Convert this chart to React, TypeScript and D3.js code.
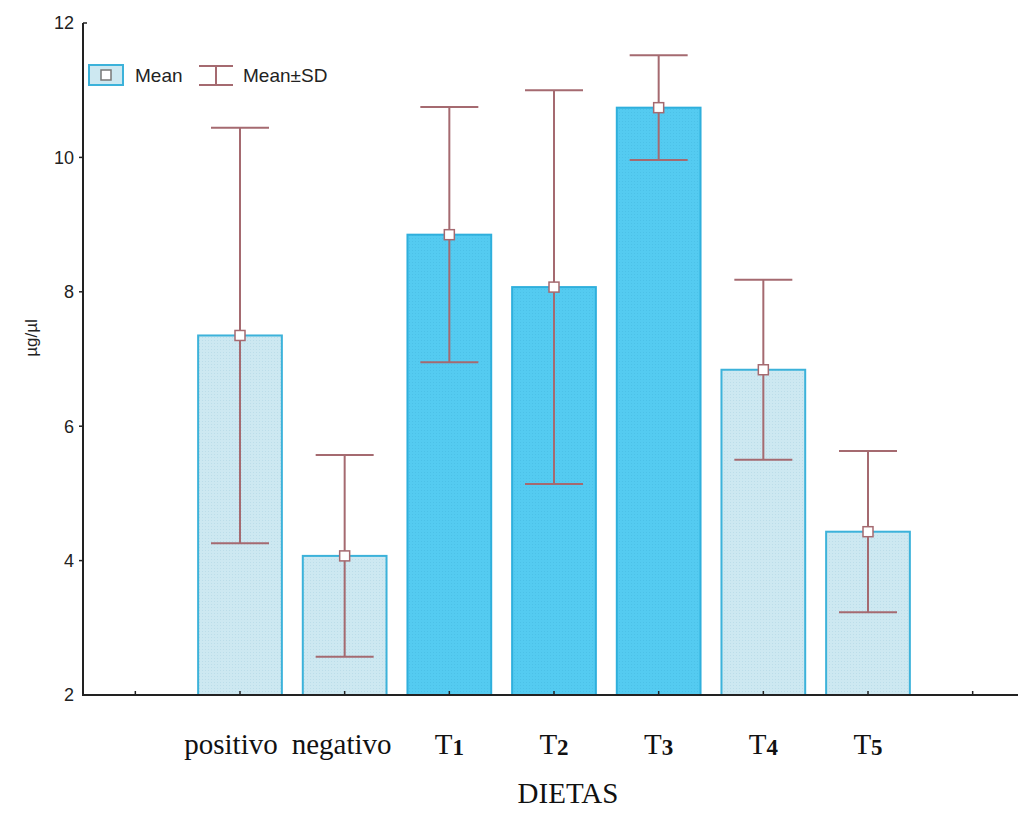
import React from "react";
import * as d3 from "d3";

// Diet groups: label text and optional subscript
const categories = ["positivo", "negativo", "T1", "T2", "T3", "T4", "T5"];
const labelBase = ["positivo", "negativo", "T", "T", "T", "T", "T"];
const labelSub = ["", "", "1", "2", "3", "4", "5"];
// Mean concentration (µg/µl) and standard deviation per group
const means = [7.35, 4.07, 8.85, 8.07, 10.74, 6.84, 4.43];
const sds = [3.09, 1.5, 1.9, 2.93, 0.78, 1.34, 1.2];
// Highlighted (dark) bars
const highlighted = [false, false, true, true, true, false, false];
const yTicks = [2, 4, 6, 8, 10, 12];

const W = 1018;
const H = 820;

export default function App() {
  const y = d3.scaleLinear().domain([2, 12]).range([695, 23]);
  // slot 0 and slot 8 are empty ends of the category axis
  const x = d3.scaleLinear().domain([-0.5, 8.5]).range([83, 1025]);
  const step = x(1) - x(0);
  const barW = step * 0.8;
  const capW = 58;
  const errColor = "#a56a70";
  const axisColor = "#222";
  const serif = "'Liberation Serif', 'Times New Roman', serif";

  const slots = d3.range(0, 9);

  return (
    <svg
      width={W}
      height={H}
      style={{ position: "absolute", left: 0, top: 0, background: "#fff" }}
      fontFamily="'Liberation Sans', Arial, sans-serif"
    >
      <defs>
        <pattern id="dotsLight" width="3" height="3" patternUnits="userSpaceOnUse">
          <rect width="3" height="3" fill="#cde8f1" />
          <rect x="1" y="1" width="1" height="1" fill="#bcdde9" />
        </pattern>
        <pattern id="dotsDark" width="3" height="3" patternUnits="userSpaceOnUse">
          <rect width="3" height="3" fill="#54cbf1" />
          <rect x="1" y="1" width="1" height="1" fill="#4cc1e8" />
        </pattern>
      </defs>

      {/* bars */}
      {means.map((m, i) => (
        <rect
          key={"bar" + i}
          x={x(i + 1) - barW / 2}
          y={y(m)}
          width={barW}
          height={y(2) - y(m)}
          fill={highlighted[i] ? "url(#dotsDark)" : "url(#dotsLight)"}
          stroke={highlighted[i] ? "#2fafdc" : "#3cb2da"}
          strokeWidth={2}
        />
      ))}

      {/* error bars: mean ± SD */}
      {means.map((m, i) => {
        const cx = x(i + 1);
        const top = y(m + sds[i]);
        const bot = y(m - sds[i]);
        return (
          <g key={"err" + i} stroke={errColor} strokeWidth={2} fill="none">
            <line x1={cx} x2={cx} y1={top} y2={bot} />
            <line x1={cx - capW / 2} x2={cx + capW / 2} y1={top} y2={top} />
            <line x1={cx - capW / 2} x2={cx + capW / 2} y1={bot} y2={bot} />
            <rect
              x={cx - 5}
              y={y(m) - 5}
              width={10}
              height={10}
              fill="#fff"
              strokeWidth={1.5}
            />
          </g>
        );
      })}

      {/* y axis */}
      <line x1={83} x2={83} y1={y(12)} y2={y(2)} stroke={axisColor} strokeWidth={2} />
      <line x1={83} x2={87} y1={y(12)} y2={y(12)} stroke={axisColor} strokeWidth={1.5} />
      {yTicks.map((t) => (
        <g key={"yt" + t}>
          {t !== 12 && t !== 2 && (
            <line x1={79} x2={83} y1={y(t)} y2={y(t)} stroke={axisColor} strokeWidth={1.5} />
          )}
          <text
            x={74}
            y={y(t)}
            dy="0.36em"
            textAnchor="end"
            fontSize={18}
            fill="#222"
          >
            {t}
          </text>
        </g>
      ))}
      <text
        transform={`translate(37,338) rotate(-90)`}
        textAnchor="middle"
        fontSize={17}
        fill="#222"
      >
        µg/µl
      </text>

      {/* x axis */}
      <line x1={82} x2={W} y1={y(2)} y2={y(2)} stroke={axisColor} strokeWidth={2} />
      {slots.map((s) => (
        <line
          key={"xt" + s}
          x1={x(s)}
          x2={x(s)}
          y1={y(2)}
          y2={y(2) - 4}
          stroke={axisColor}
          strokeWidth={1.5}
        />
      ))}

      {/* category labels */}
      {categories.map((c, i) => {
        const shift = i === 0 ? -9 : i === 1 ? -3 : 0;
        return (
          <text
            key={"lab" + c}
            x={x(i + 1) + shift}
            y={754}
            textAnchor="middle"
            fontFamily={serif}
            fontSize={29}
            fill="#111"
          >
            {labelBase[i]}
            {labelSub[i] && (
              <tspan fontSize={23} fontWeight="bold" dy={1}>
                {labelSub[i]}
              </tspan>
            )}
          </text>
        );
      })}
      <text
        x={568}
        y={803}
        textAnchor="middle"
        fontFamily={serif}
        fontSize={29}
        fill="#111"
      >
        DIETAS
      </text>

      {/* legend */}
      <g>
        <rect x={89} y={65} width={34} height={20} fill="#cde8f1" stroke="#3cb2da" strokeWidth={2} />
        <rect x={101} y={70} width={10} height={10} fill="#fff" stroke="#777" strokeWidth={1.5} />
        <text x={135} y={75} dy="0.36em" fontSize={19} fill="#222">
          Mean
        </text>
        <g stroke={errColor} strokeWidth={2}>
          <line x1={216} x2={216} y1={66} y2={85} />
          <line x1={199} x2={233} y1={66} y2={66} />
          <line x1={199} x2={233} y1={85} y2={85} />
        </g>
        <text x={243} y={75} dy="0.36em" fontSize={19} fill="#222">
          Mean±SD
        </text>
      </g>
    </svg>
  );
}
